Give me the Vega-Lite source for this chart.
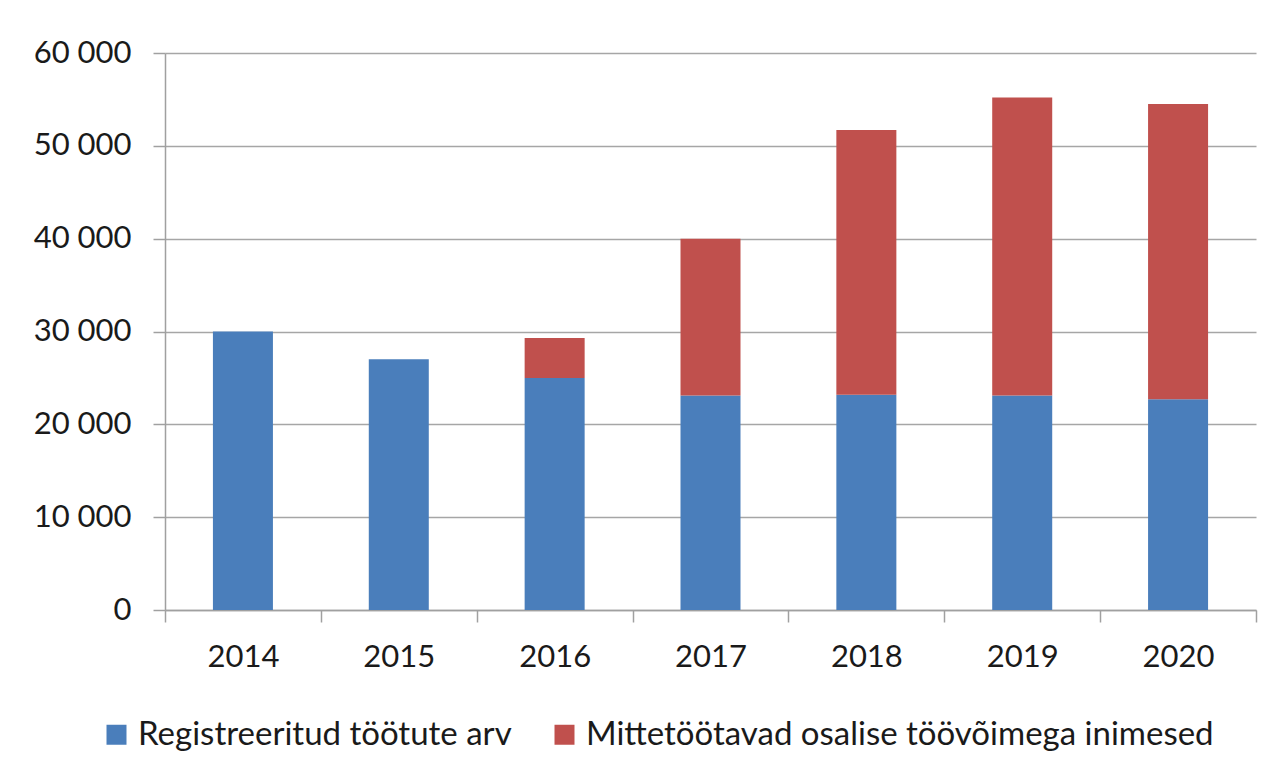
{
  "$schema": "https://vega.github.io/schema/vega-lite/v6.json",
  "autosize": "none",
  "width": 1091,
  "height": 557,
  "padding": {"left": 165, "top": 53, "right": 26, "bottom": 168},
  "background": "white",
  "config": {
    "font": "Lato",
    "view": {"stroke": null},
    "axis": {
      "labelFont": "Lato",
      "labelFontSize": 31,
      "labelColor": "#1a1a1a",
      "domainColor": "#a0a0a0",
      "domainWidth": 1.5,
      "tickColor": "#a0a0a0",
      "tickWidth": 1.5,
      "tickSize": 12,
      "gridColor": "#a6a6a6",
      "gridWidth": 1.5,
      "title": null
    }
  },
  "data": {
    "values": [
      {"year": "2014", "series": "Registreeritud töötute arv", "value": 30000},
      {"year": "2015", "series": "Registreeritud töötute arv", "value": 27000},
      {"year": "2016", "series": "Registreeritud töötute arv", "value": 25000},
      {"year": "2016", "series": "Mittetöötavad osalise töövõimega inimesed", "value": 4300},
      {"year": "2017", "series": "Registreeritud töötute arv", "value": 23100},
      {"year": "2017", "series": "Mittetöötavad osalise töövõimega inimesed", "value": 16900},
      {"year": "2018", "series": "Registreeritud töötute arv", "value": 23200},
      {"year": "2018", "series": "Mittetöötavad osalise töövõimega inimesed", "value": 28500},
      {"year": "2019", "series": "Registreeritud töötute arv", "value": 23100},
      {"year": "2019", "series": "Mittetöötavad osalise töövõimega inimesed", "value": 32100},
      {"year": "2020", "series": "Registreeritud töötute arv", "value": 22700},
      {"year": "2020", "series": "Mittetöötavad osalise töövõimega inimesed", "value": 31800}
    ]
  },
  "mark": {"type": "bar", "width": {"band": 0.385}},
  "encoding": {
    "x": {
      "field": "year",
      "type": "nominal",
      "scale": {"paddingInner": 0, "paddingOuter": 0},
      "axis": {
        "labelAngle": 0,
        "tickBand": "extent",
        "labelPadding": 20,
        "grid": false
      }
    },
    "y": {
      "field": "value",
      "type": "quantitative",
      "stack": "zero",
      "scale": {"domain": [0, 60000], "nice": false},
      "axis": {
        "values": [0, 10000, 20000, 30000, 40000, 50000, 60000],
        "labelExpr": "replace(format(datum.value, ','), ',', ' ')",
        "labelPadding": 22,
        "grid": true
      }
    },
    "color": {
      "field": "series",
      "type": "nominal",
      "scale": {
        "domain": ["Registreeritud töötute arv", "Mittetöötavad osalise töövõimega inimesed"],
        "range": ["#4A7EBB", "#C0504D"]
      },
      "legend": {
        "orient": "none",
        "direction": "horizontal",
        "legendX": -65,
        "legendY": 665,
        "title": null,
        "symbolType": "square",
        "symbolSize": 400,
        "symbolStrokeWidth": 0,
        "labelFont": "Lato",
        "labelFontSize": 33,
        "labelColor": "#1a1a1a",
        "labelLimit": 900,
        "labelOffset": 5,
        "columnPadding": 36
      }
    },
    "order": {"field": "series", "sort": "descending"}
  }
}
